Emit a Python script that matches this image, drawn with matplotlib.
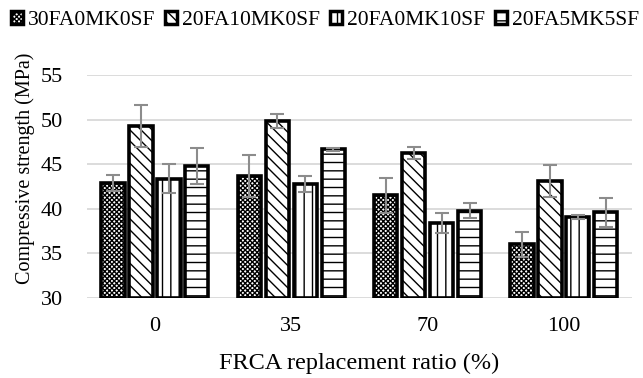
import numpy as np
import matplotlib.pyplot as plt
from matplotlib.patches import Patch

plt.rcParams.update({
    "font.family": ["Liberation Serif", "DejaVu Serif"],
    "font.size": 16,
    "hatch.linewidth": 1.0,
})

categories = ["0", "35", "70", "100"]
series = ["30FA0MK0SF", "20FA10MK0SF", "20FA0MK10SF", "20FA5MK5SF"]

s_30fa = [42.9, 43.7, 41.5, 36.0]
s_20fa10mk = [49.3, 49.9, 46.3, 43.1]
s_20fa10sf = [43.4, 42.8, 38.4, 39.1]
s_20fa5mk5sf = [44.8, 46.7, 39.8, 39.6]

e_30fa = [0.85, 2.4, 2.0, 1.4]
e_20fa10mk = [2.4, 0.8, 0.7, 1.8]
e_20fa10sf = [1.6, 0.9, 1.1, 0.2]
e_20fa5mk5sf = [2.0, 0.15, 0.85, 1.6]

values = [s_30fa, s_20fa10mk, s_20fa10sf, s_20fa5mk5sf]
errors = [e_30fa, e_20fa10mk, e_20fa10sf, e_20fa5mk5sf]
hatches = ["xxxxxxx", "\\\\\\", "||", "--"]

y_min, y_max = 30, 55

fig = plt.figure(figsize=(6.43, 3.78), dpi=100)
ax = fig.add_axes([0.135, 0.212, 0.848, 0.59])

x = np.arange(len(categories))
pitch = 0.205
width = 0.17

for i, (vals, errs, h) in enumerate(zip(values, errors, hatches)):
    pos = x + (i - 1.5) * pitch
    vals = np.array(vals)
    ax.bar(pos, vals - y_min, bottom=y_min, width=width, color="white",
           edgecolor="black", linewidth=2.6, hatch=h, zorder=3)
    ax.errorbar(pos, vals, yerr=errs, fmt="none", ecolor="#8c8c8c",
                elinewidth=1.5, capsize=5, capthick=1.5, zorder=4)

ax.set_xlim(-0.5, len(categories) - 0.5)
ax.set_ylim(y_min, y_max + 0.05)
ax.set_yticks(np.arange(30, 56, 5))
ax.set_xticks(x)
ax.set_xticklabels(categories)
ax.yaxis.grid(True, color="#d9d9d9", linewidth=1.3, zorder=0)
for sp in ax.spines.values():
    sp.set_visible(False)
ax.tick_params(axis="y", length=0, pad=17, labelsize=16)
ax.tick_params(axis="x", length=0, pad=14, labelsize=16)
ax.set_ylabel("Compressive strength (MPa)", fontsize=14.5)
ax.yaxis.set_label_coords(-0.095, 0.58)
ax.set_xlabel("FRCA replacement ratio (%)", fontsize=17.5, labelpad=12)

handles = [Patch(facecolor="white", edgecolor="black", hatch=h, linewidth=2.5)
           for h in hatches]
fig.legend(handles, series, loc="upper left", bbox_to_anchor=(0.0, 1.0),
           ncol=4, frameon=False, fontsize=15.5, handlelength=0.55,
           handleheight=0.55, handletextpad=0.25, columnspacing=0.45,
           borderaxespad=0.1)

fig.savefig("out.png", dpi=100)
